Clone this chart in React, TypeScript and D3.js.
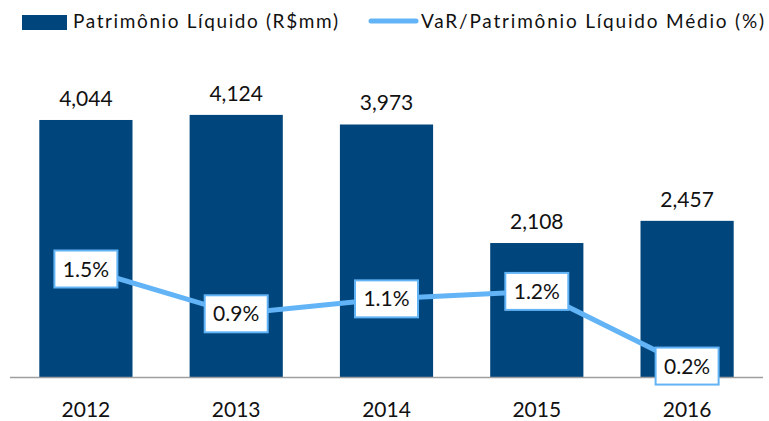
import React from "react";
import * as d3 from "d3";

const years = ["2012", "2013", "2014", "2015", "2016"];
const equity = [4044, 4124, 3973, 2108, 2457];
const varPct = [1.5, 0.9, 1.1, 1.2, 0.2];
const barLegend = "Patrimônio Líquido (R$mm)";
const lineLegend = "VaR/Patrimônio Líquido Médio (%)";

const W = 769;
const H = 421;
const BAR = "#00457c";
const LINE = "#62b4f6";
const FONT = "Lato, 'Open Sans', sans-serif";

export default function App() {
  const x = d3.scaleBand<string>().domain(years).range([10, 763]).paddingInner(0.38).paddingOuter(0.195);
  const y = d3.scaleLinear().domain([0, 4500]).range([377, 91]);
  const yp = d3.scaleLinear().domain([0, 1.5]).range([381, 269]);
  const cx = (d: string) => (x(d) as number) + x.bandwidth() / 2;
  const pts: [number, number][] = years.map((d, i) => [cx(d), yp(varPct[i])]);
  const line = d3.line()(pts) as string;
  const fmt = d3.format(",");
  const bw = 63;
  const bh = 37;

  return (
    <svg width={W} height={H} style={{ position: "absolute", left: 0, top: 0, background: "#fff" }} fontFamily={FONT}>
      {/* legend */}
      <rect x={22} y={15} width={45} height={15} fill={BAR} />
      <text x={73} y={28} fontSize={19} fill="#111" textLength={265} lengthAdjust="spacing">{barLegend}</text>
      <line x1={371} x2={416} y1={21} y2={21} stroke={LINE} strokeWidth={5} strokeLinecap="round" />
      <text x={421} y={28} fontSize={19} fill="#111" textLength={343} lengthAdjust="spacing">{lineLegend}</text>

      {/* bars */}
      {years.map((d, i) => (
        <g key={d}>
          <rect x={x(d)} y={y(equity[i])} width={x.bandwidth()} height={y(0) - y(equity[i])} fill={BAR} />
          <text x={cx(d)} y={y(equity[i]) - 14} textAnchor="middle" fontSize={21} fill="#111">{fmt(equity[i])}</text>
          <text x={cx(d)} y={417} textAnchor="middle" fontSize={21} fill="#111">{d}</text>
        </g>
      ))}

      {/* axis line */}
      <line x1={10} x2={763} y1={377.5} y2={377.5} stroke="#9e9e9e" strokeWidth={1.5} />

      {/* VaR line */}
      <path d={line} fill="none" stroke={LINE} strokeWidth={5} />
      {pts.map(([px, py], i) => (
        <g key={i}>
          <rect x={px - bw / 2} y={py - bh / 2} width={bw} height={bh} fill="#fff" stroke={LINE} strokeWidth={2} />
          <text x={px} y={py + 7.5} textAnchor="middle" fontSize={21} fill="#111">{varPct[i].toFixed(1) + "%"}</text>
        </g>
      ))}
    </svg>
  );
}
